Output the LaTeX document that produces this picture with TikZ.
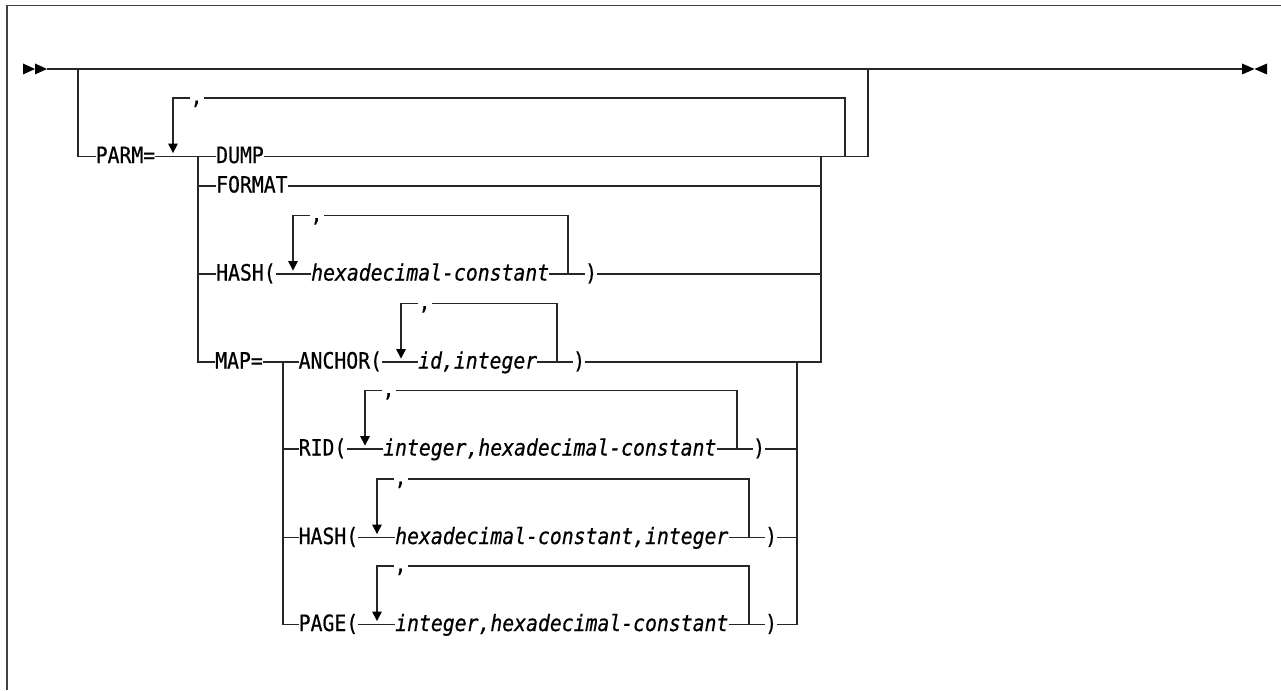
\documentclass[tikz,border=0pt]{standalone}
\usepackage{fontspec}
\newfontfamily\dfont[FakeStretch=0.88,FakeBold=0.6]{DejaVu Sans Mono}
\newcommand\dsz{\fontsize{22.46pt}{26pt}\selectfont}
% #1 name, #2 left x, #3 right x, #4 row y
\newcommand\rloop[4]{%
  \draw[rail] (#3,#4) -- (#3,#4-58.5) -- (#2+30.5,#4-58.5);
  \node[commanode] (#1) at (#2+23.5,#4-52.5) {,};
  \draw[rail] (#2+16.5,#4-58.5) -- (#2,#4-58.5) -- (#2,#4-11);
  \fill[tri] (#2-5,#4-13) -- (#2+5,#4-13) -- (#2,#4-3.5) -- cycle;}
\begin{document}
\begin{tikzpicture}[x=1pt,y=-1pt,
  rail/.style={line width=1.3pt, draw=black!85},
  framestyle/.style={line width=1.8pt, draw=black!75},
  kw/.style={anchor=west, inner sep=0pt, text height=16.5pt, text depth=3.5pt, font={\dfont\dsz}},
  var/.style={kw, font={\dfont\dsz\itshape}},
  commanode/.style={anchor=base, inner sep=0pt, font={\dfont\dsz}},
  tri/.style={fill=black, draw=none}]
\useasboundingbox (0,0) rectangle (1281,690);
% frame
\draw[framestyle] (7,690) -- (7,5.5) -- (1281,5.5);
% start and end markers
\fill[tri] (23,63.5) -- (35,69) -- (23,74.5) -- cycle;
\fill[tri] (35,63.5) -- (47,69) -- (35,74.5) -- cycle;
\fill[tri] (1242,63.5) -- (1254.5,69) -- (1242,74.5) -- cycle;
\fill[tri] (1267,63.5) -- (1254.5,69) -- (1267,74.5) -- cycle;
\coordinate (start) at (47,69);
\coordinate (stop) at (1242,69);
\draw[rail, line width=1.6pt] (start) -- (stop);
% PARM= branch
\coordinate (pdown) at (78,69);
\node[kw] (parm) at (95.5,156.5) {PARM=};
\draw[rail] (pdown) |- (parm.west);
\coordinate (c1L) at (198,156.5);
\draw[rail] (parm.east) -- (c1L);
\rloop{pcomma}{173}{845}{156.5}
% DUMP
\node[kw] (dump) at (216,156.5) {DUMP};
\coordinate (pup) at (868,69);
\draw[rail] (c1L) -- (dump.west);
\draw[rail] (dump.east) -| (pup);
% FORMAT
\node[kw] (format) at (216,186) {FORMAT};
\draw[rail] (c1L |- format.west) -- (format.west);
\draw[rail] (format.east) -- (821,186);
% HASH(
\node[kw] (hash) at (216,274) {HASH(};
\node[var] (hexc) at (311,274) {hexadecimal-constant};
\node[kw] (hashrp) at (585,274) {)};
\draw[rail] (c1L |- hash.west) -- (hash.west);
\draw[rail] (hash.east) -- (hexc.west);
\draw[rail] (hexc.east) -- (hashrp.west);
\draw[rail] (hashrp.east) -- (821,274);
\rloop{hcomma}{293}{568}{274}
% MAP=
\node[kw] (map) at (215,362) {MAP=};
\draw[rail] (c1L) |- (map.west);
\coordinate (c2L) at (283,362);
\draw[rail] (map.east) -- (c2L);
% ANCHOR(
\node[kw] (anchorkw) at (298.5,362) {ANCHOR(};
\node[var] (idint) at (418,362) {id,integer};
\node[kw] (anrp) at (573,362) {)};
\draw[rail] (c2L) -- (anchorkw.west);
\draw[rail] (anchorkw.east) -- (idint.west);
\draw[rail] (idint.east) -- (anrp.west);
\draw[rail] (anrp.east) -| (821,156.5);
\rloop{acomma}{401}{557}{362}
% RID(
\node[kw] (rid) at (298.5,449) {RID(};
\node[var] (ridv) at (383,449) {integer,hexadecimal-constant};
\node[kw] (ridrp) at (753,449) {)};
\draw[rail] (c2L |- rid.west) -- (rid.west);
\draw[rail] (rid.east) -- (ridv.west);
\draw[rail] (ridv.east) -- (ridrp.west);
\draw[rail] (ridrp.east) -- (797,449);
\rloop{rcomma}{365}{737}{449}
% HASH( (map)
\node[kw] (hashb) at (298.5,537.5) {HASH(};
\node[var] (hashbv) at (395,537.5) {hexadecimal-constant,integer};
\node[kw] (hashbrp) at (765,537.5) {)};
\draw[rail] (c2L |- hashb.west) -- (hashb.west);
\draw[rail] (hashb.east) -- (hashbv.west);
\draw[rail] (hashbv.east) -- (hashbrp.west);
\draw[rail] (hashbrp.east) -- (797,537.5);
\rloop{hbcomma}{377}{749}{537.5}
% PAGE(
\node[kw] (page) at (298.5,624.5) {PAGE(};
\node[var] (pagev) at (395,624.5) {integer,hexadecimal-constant};
\node[kw] (pagerp) at (765,624.5) {)};
\draw[rail] (c2L) |- (page.west);
\draw[rail] (page.east) -- (pagev.west);
\draw[rail] (pagev.east) -- (pagerp.west);
\draw[rail] (pagerp.east) -| (797,362);
\rloop{pgcomma}{377}{749}{624.5}
\end{tikzpicture}
\end{document}
